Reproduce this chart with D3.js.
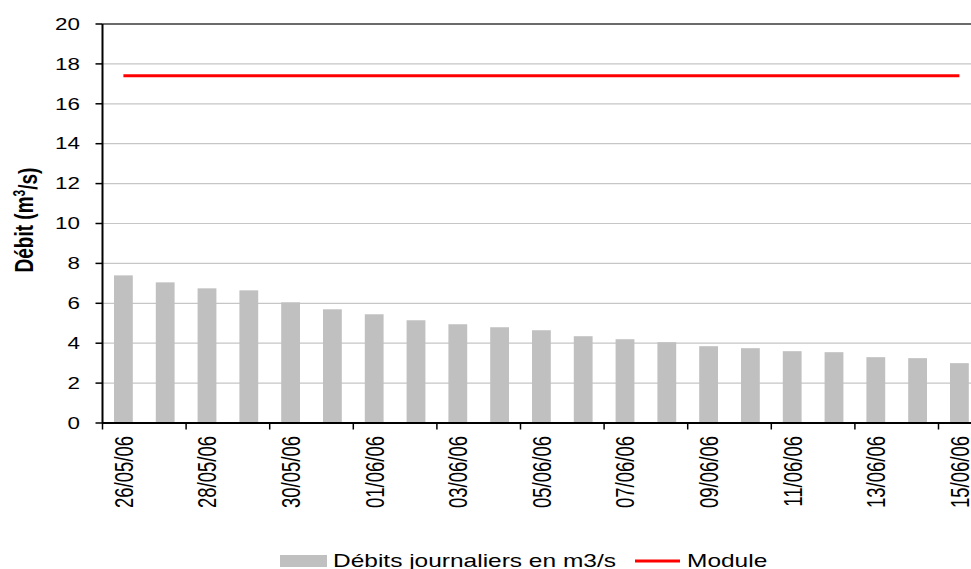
<!DOCTYPE html>
<html><head><meta charset="utf-8">
<script src="https://cdn.jsdelivr.net/npm/d3@7"></script>
<style>body{margin:0;background:#fff}svg{display:block}text{font-family:"Liberation Sans",Arial,sans-serif;fill:#000}</style>
</head><body><svg id="c" width="971" height="569"></svg>
<script>
const dates = ["26/05/06","27/05/06","28/05/06","29/05/06","30/05/06","31/05/06","01/06/06","02/06/06","03/06/06","04/06/06","05/06/06","06/06/06","07/06/06","08/06/06","09/06/06","10/06/06","11/06/06","12/06/06","13/06/06","14/06/06","15/06/06"];
const debits = [7.4,7.05,6.75,6.65,6.05,5.7,5.45,5.15,4.95,4.8,4.65,4.35,4.2,4.05,3.85,3.75,3.6,3.55,3.3,3.25,3.0];
const moduleValue = 17.4;
const yTicks = [0,2,4,6,8,10,12,14,16,18,20];
const seriesNames = ["Débits journaliers en m3/s","Module"];

const SX = 1.4;
const svg = d3.select("#c");
const plotLeft = 102.5, plotTop = 24, plotBottom = 423, step = 41.8;
const x = d3.scaleBand().domain(dates).range([plotLeft, plotLeft + step*dates.length]).paddingInner(0.55).paddingOuter(0.275);
const y = d3.scaleLinear().domain([0,20]).range([plotBottom, plotTop]);

// gridlines
svg.append("g").selectAll("line").data(yTicks.filter(t=>t>0 && t<20)).join("line")
  .attr("x1", plotLeft).attr("x2", 971).attr("y1", d=>y(d)).attr("y2", d=>y(d))
  .attr("stroke", "#c6c6c6").attr("stroke-width", 1.2);
svg.append("line").attr("x1", plotLeft).attr("x2", 971).attr("y1", y(20)).attr("y2", y(20))
  .attr("stroke", "#3a3a3a").attr("stroke-width", 1.6);

// bars
svg.append("g").selectAll("rect").data(debits).join("rect")
  .attr("x", (d,i)=>x(dates[i])).attr("width", x.bandwidth())
  .attr("y", d=>y(d)).attr("height", d=>y(0)-y(d)).attr("fill", "#c0c0c0");

// module line
svg.append("line")
  .attr("x1", x(dates[0]) + x.bandwidth()/2).attr("x2", x(dates[dates.length-1]) + x.bandwidth()/2)
  .attr("y1", y(moduleValue)).attr("y2", y(moduleValue))
  .attr("stroke", "#ff0000").attr("stroke-width", 3);

// y axis
svg.append("line").attr("x1", plotLeft).attr("x2", plotLeft).attr("y1", y(20)).attr("y2", y(0)).attr("stroke","#000").attr("stroke-width",2);
svg.append("g").selectAll("line").data(yTicks).join("line")
  .attr("x1", plotLeft-7).attr("x2", plotLeft).attr("y1", d=>y(d)).attr("y2", d=>y(d)).attr("stroke","#000").attr("stroke-width",1.5);
svg.append("g").selectAll("text").data(yTicks).join("text")
  .attr("transform", d=>`translate(80,${y(d)}) scale(${SX},1)`)
  .attr("text-anchor","end").attr("dy","0.36em").style("font-size","16px").text(d=>d);

// x axis
svg.append("line").attr("x1", plotLeft).attr("x2", 971).attr("y1", plotBottom).attr("y2", plotBottom).attr("stroke","#000").attr("stroke-width",2);
const off = (x.step()-x.bandwidth())/2;
const shown = dates.filter((d,i)=>i%2===0);
svg.append("g").selectAll("line").data(shown).join("line")
  .attr("x1", d=>x(d)-off).attr("x2", d=>x(d)-off).attr("y1", plotBottom).attr("y2", plotBottom+6.5)
  .attr("stroke","#000").attr("stroke-width",1.5);
svg.append("g").selectAll("text").data(shown).join("text")
  .attr("transform", d=>`translate(${x(d)+x.bandwidth()/2},436) scale(${SX},1) rotate(-90)`)
  .attr("text-anchor","end").attr("dy","0.36em").style("font-size","18.5px").text(d=>d);

// y title
const yt = svg.append("text").attr("transform", `translate(23,220) scale(${SX},1) rotate(-90)`)
  .attr("text-anchor","middle").attr("dy","0.36em").style("font-size","19px").style("font-weight","bold");
yt.append("tspan").text("Débit (m");
yt.append("tspan").attr("dy","-0.45em").style("font-size","12px").text("3");
yt.append("tspan").attr("dy","0.45em").text("/s)");

// legend
svg.append("rect").attr("x",280).attr("y",555).attr("width",47).attr("height",12).attr("fill","#c0c0c0");
svg.append("text").attr("transform",`translate(333,567) scale(${SX},1)`).style("font-size","17.5px").text(seriesNames[0]);
svg.append("line").attr("x1",635).attr("x2",680).attr("y1",561).attr("y2",561).attr("stroke","#ff0000").attr("stroke-width",3);
svg.append("text").attr("transform",`translate(687,567) scale(${SX},1)`).style("font-size","17.5px").text(seriesNames[1]);
</script></body></html>
